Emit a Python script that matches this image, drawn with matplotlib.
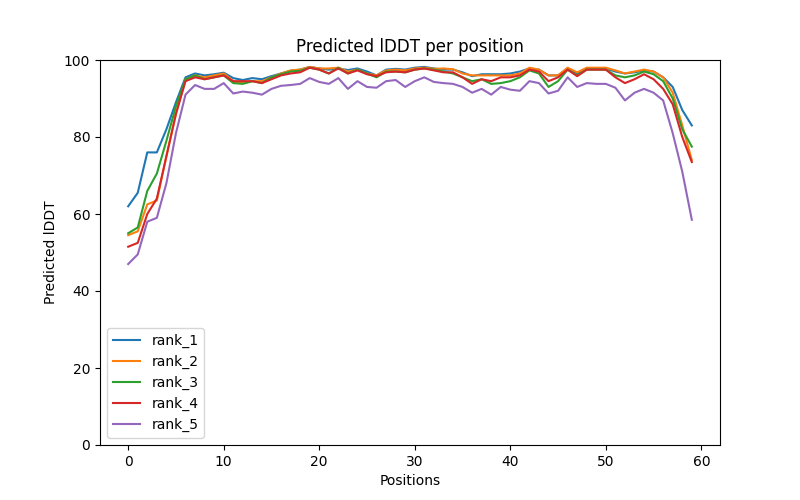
import matplotlib
matplotlib.use("Agg")
import matplotlib.pyplot as plt

positions = list(range(60))

rank_1 = [62, 65.5, 76, 76, 82, 89, 95.5, 96.5, 96, 96.3,
          96.7, 95.3, 94.8, 95.3, 95, 95.8, 96.5, 97.2, 97.5, 98.2,
          97.8, 97.5, 97.8, 97.4, 97.8, 97, 96, 97.5, 97.7, 97.5,
          98, 98.2, 97.8, 97.5, 97.5, 96.8, 95.8, 96.3, 96.3, 96.3,
          96.5, 97, 97.8, 97.5, 96, 96, 97.8, 96.5, 97.8, 97.8,
          97.8, 97, 96.5, 96.8, 97.3, 97, 95.5, 93, 87, 83]
rank_2 = [54.5, 55.5, 62.5, 63.5, 75, 86, 95, 96, 95.5, 96,
          96.5, 94.5, 94, 94.5, 94.5, 95.5, 96.5, 97.3, 97.5, 98.2,
          97.8, 97.8, 98, 97, 97.5, 96.5, 96, 97.3, 97.5, 97.3,
          97.8, 98, 97.7, 97.8, 97.6, 96.5, 96, 96, 96, 96,
          96, 96.5, 98, 97.5, 96, 96, 98, 96.8, 98, 98,
          98, 97.3, 96.5, 97, 97.5, 97, 95.5, 91.5, 83, 74]
rank_3 = [55, 56.5, 66, 70.5, 79, 88, 95, 96, 95, 95.5,
          96, 94, 93.8, 94.5, 94, 95.5, 96.3, 97, 97.2, 98,
          97.5, 96.5, 98, 96.5, 97.5, 96.5, 95.5, 97, 97, 96.8,
          97.5, 97.8, 97.5, 97, 96.5, 95.5, 94.5, 95, 93.8, 94,
          94.5, 95.5, 97.3, 96.5, 93, 94.5, 97.5, 96, 97.5, 97.5,
          97.5, 96, 95.5, 96, 97, 96.3, 94.5, 90, 82, 77.5]
rank_4 = [51.5, 52.5, 60, 64, 75, 86, 94.5, 95.5, 95, 95.5,
          96, 94.5, 94.5, 94.5, 94, 95, 96, 96.5, 96.8, 98,
          97.5, 96.5, 97.8, 96.5, 97.3, 96.3, 95.8, 96.8, 97, 96.8,
          97.5, 97.8, 97.3, 96.8, 96.8, 95.5, 93.8, 95, 94.5, 95.5,
          95.5, 96, 97.5, 97, 94.5, 95.5, 97.5, 95.8, 97.5, 97.5,
          97.5, 95.5, 94, 95, 96.3, 95, 92.5, 88.5, 80, 73.5]
rank_5 = [47, 49.5, 58, 59, 68, 81, 91, 93.5, 92.5, 92.5,
          94, 91.3, 91.8, 91.5, 91, 92.5, 93.3, 93.5, 93.8, 95.3,
          94.3, 93.8, 95.3, 92.5, 94.5, 93, 92.8, 94.5, 94.8, 93,
          94.5, 95.5, 94.3, 94, 93.8, 93, 91.5, 92.5, 91, 93,
          92.3, 92, 94.5, 94, 91.3, 92, 95.5, 93, 94, 93.8,
          93.8, 92.8, 89.5, 91.5, 92.5, 91.5, 89.5, 81, 71, 58.5]

series = {"rank_1": rank_1, "rank_2": rank_2, "rank_3": rank_3,
          "rank_4": rank_4, "rank_5": rank_5}

plt.figure(figsize=(8, 5), dpi=100)
for name, vals in series.items():
    plt.plot(positions, vals, label=name)
plt.title("Predicted lDDT per position")
plt.xlabel("Positions")
plt.ylabel("Predicted lDDT")
plt.ylim(0, 100)
plt.legend(loc="lower left")
plt.savefig("out.png")
